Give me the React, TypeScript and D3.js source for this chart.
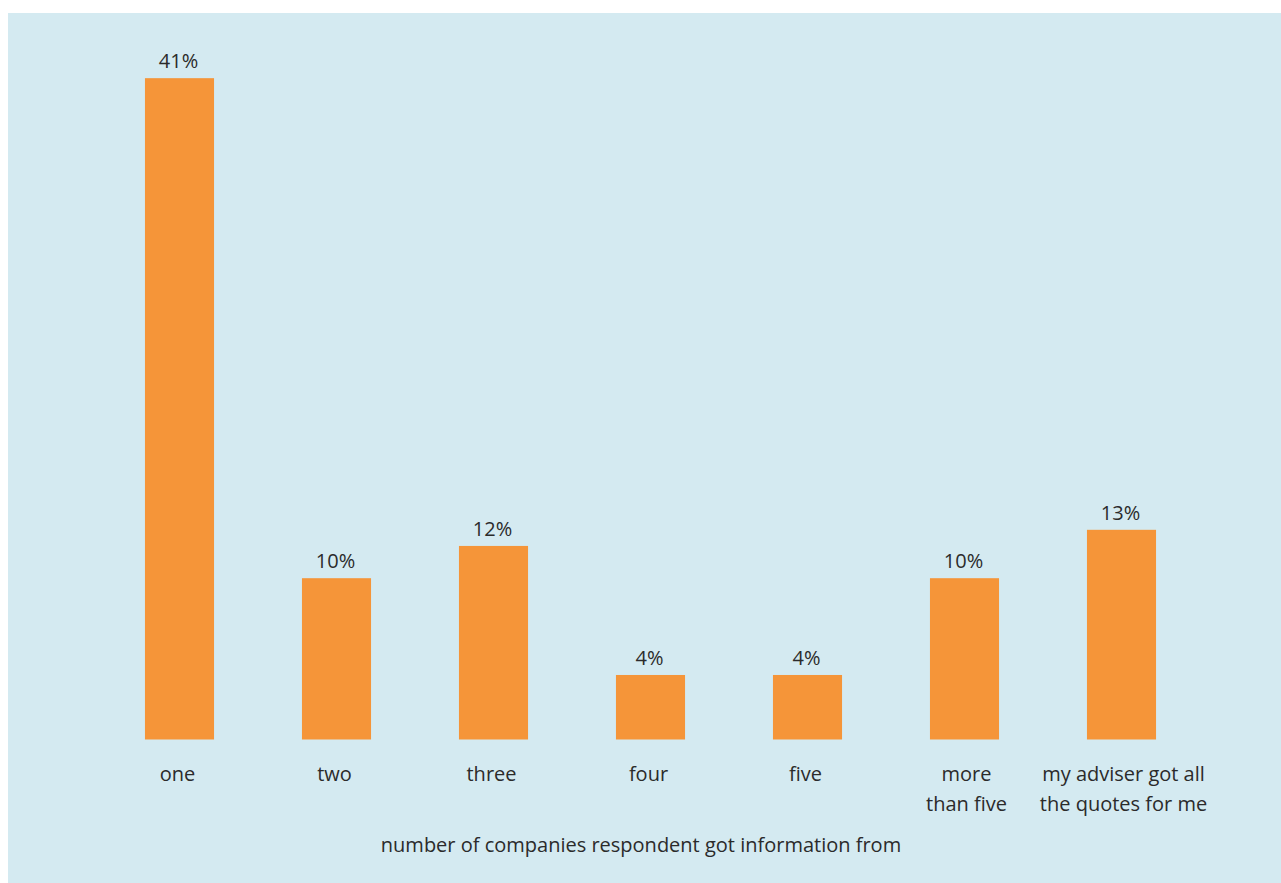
import React from "react";
import * as d3 from "d3";

const categories: string[][] = [
  ["one"],
  ["two"],
  ["three"],
  ["four"],
  ["five"],
  ["more", "than five"],
  ["my adviser got all", "the quotes for me"],
];
const values: number[] = [41, 10, 12, 4, 4, 10, 13];
const xTitle = "number of companies respondent got information from";

const W = 1281;
const H = 883;
const FONT = "'Open Sans', Lato, sans-serif";
const TEXT = "#2b2b2b";
const FS = 20;

export default function App() {
  const keys = categories.map((c) => c.join(" "));
  const x = d3
    .scaleBand<string>()
    .domain(keys)
    .range([101, 1200])
    .paddingInner(0.56)
    .paddingOuter(0.28);
  const y = d3.scaleLinear().domain([0, 45]).range([739.5, 13.65]);

  return (
    <svg
      width={W}
      height={H}
      style={{ position: "absolute", left: 0, top: 0, display: "block" }}
      fontFamily={FONT}
    >
      <rect x={8} y={13} width={W - 8} height={H - 13} fill="#d4eaf1" />
      {values.map((v, i) => {
        const k = keys[i];
        const bx = x(k)!;
        const cx = bx + x.bandwidth() / 2;
        const lx = categories[i].length > 1 ? cx + 2 : cx - 2;
        return (
          <g key={k}>
            <rect
              x={bx}
              y={y(v)}
              width={x.bandwidth()}
              height={y(0) - y(v)}
              fill="#f59539"
            />
            <text
              x={cx - 1}
              y={y(v) - 10}
              textAnchor="middle"
              fontSize={FS}
              fill={TEXT}
            >
              {v}%
            </text>
            <text x={lx} y={781} textAnchor="middle" fontSize={FS} fill={TEXT}>
              {categories[i].map((line, j) => (
                <tspan key={j} x={lx} dy={j === 0 ? 0 : 29.5}>
                  {line}
                </tspan>
              ))}
            </text>
          </g>
        );
      })}
      <text x={641} y={852} textAnchor="middle" fontSize={FS} fill={TEXT}>
        {xTitle}
      </text>
    </svg>
  );
}
